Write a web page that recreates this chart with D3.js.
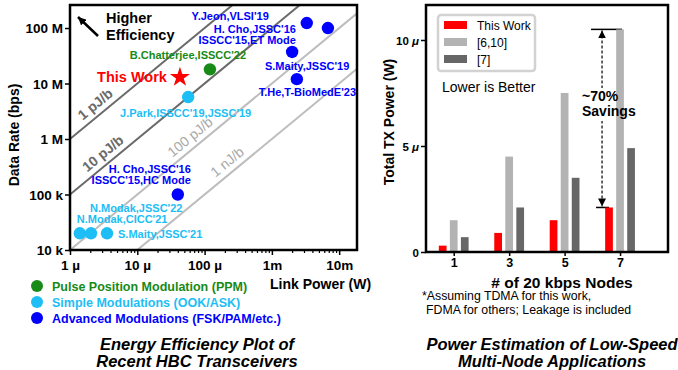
<!DOCTYPE html>
<html>
<head>
<meta charset="utf-8">
<script src="https://cdn.jsdelivr.net/npm/d3@7"></script>
<style>
  body { margin: 0; background: #fff; }
  svg { display: block; font-family: 'Liberation Sans', Arial, Helvetica, sans-serif; }
</style>
</head>
<body>
<div id="chart"></div>
<script>
// ---- left chart data: link power (W) vs data rate (bps)
const refNames = [
  ["B.Chatterjee,ISSCC'22"],
  ["J.Park,ISSCC'19,JSSC'19"],
  ["Y.Jeon,VLSI'19"],
  ["H. Cho,JSSC'16", "ISSCC'15,ET Mode"],
  ["S.Maity,JSSC'19"],
  ["T.He,T-BioMedE'23"],
  ["H. Cho,JSSC'16", "ISSCC'15,HC Mode"],
  ["N.Modak,CICC'21"],
  ["N.Modak,JSSC'22"],
  ["S.Maity,JSSC'21"]
];
const refPower = [120e-6, 57e-6, 3.3e-3, 6.8e-3, 2.0e-3, 2.35e-3, 40e-6, 1.4e-6, 2.05e-6, 3.55e-6];
const refRate = [18e6, 5.7e6, 123e6, 100e6, 37e6, 12e6, 100e3, 20e3, 20e3, 20e3];
const refMod = ['PPM', 'Simple', 'Advanced', 'Advanced', 'Advanced', 'Advanced', 'Advanced', 'Simple', 'Simple', 'Simple'];
const thisWorkPower = 43e-6;
const thisWorkRate = 13e6;

const modKeys = ['PPM', 'Simple', 'Advanced'];
const modNames = ['Pulse Position Modulation (PPM)', 'Simple Modulations (OOK/ASK)', 'Advanced Modulations (FSK/PAM/etc.)'];

const energyPerBit = [1e-12, 1e-11, 1e-10, 1e-9];
const energyNames = ['1 pJ/b', '10 pJ/b', '100 pJ/b', '1 nJ/b'];

const xTickValues = [1e-6, 1e-5, 1e-4, 1e-3, 1e-2];
const xTickLabels = ['1 µ', '10 µ', '100 µ', '1m', '10m'];
const yTickValues = [1e4, 1e5, 1e6, 1e7, 1e8];
const yTickLabels = ['10 k', '100 k', '1 M', '10 M', '100 M'];

// ---- right chart data: total TX power (µW) vs number of nodes
const nodes = [1, 3, 5, 7];
const seriesNames = ['This Work', '[6,10]', '[7]'];
const thisWorkTx = [0.3, 0.9, 1.5, 2.1];
const ref610Tx = [1.5, 4.5, 7.5, 10.5];
const ref7Tx = [0.7, 2.1, 3.5, 4.9];
const powerTicks = [0, 5, 10];

// ---- styles / layout
const modColor = { PPM: '#178a17', Simple: '#1cbef5', Advanced: '#0000ff' };
const energyLine = ['#6a6a6a', '#6a6a6a', '#bdbdbd', '#bdbdbd'];
const energyText = ['#6a6a6a', '#6a6a6a', '#a8a8a8', '#a8a8a8'];
const energyLabelAt = [3e-6, 3.9e-6, 77e-6, 274e-6];
const labelOffset = [
  [-22, -10.5, 'middle'], [-2.5, 20, 'middle'], [-38, -3, 'end'], [-32, 5, 'end'],
  [15, 18, 'middle'], [10.5, 17, 'middle'], [13, -22, 'end'], [-3, -10, 'start'],
  [-1, -21, 'start'], [11, 5, 'start']
];
const seriesColor = ['#ff0000', '#b3b3b3', '#676767'];

const svg = d3.select('#chart').append('svg').attr('width', 678).attr('height', 370);

const defs = svg.append('defs');
defs.append('clipPath').attr('id', 'clipL').append('rect')
  .attr('x', 70).attr('y', 5).attr('width', 287).attr('height', 245);
defs.append('marker')
  .attr('id', 'arrowHead')
  .attr('viewBox', '0 0 10 10')
  .attr('refX', 10).attr('refY', 5)
  .attr('markerWidth', 8).attr('markerHeight', 8)
  .attr('markerUnits', 'userSpaceOnUse')
  .attr('orient', 'auto-start-reverse')
  .append('path').attr('d', 'M0,0 L10,5 L0,10 Z').attr('fill', '#000');

// ================= LEFT CHART =================
const xL = d3.scaleLog().domain([1e-6, 1.84e-2]).range([70, 357]);
const yL = d3.scaleLog().domain([1e4, 2.6e8]).range([250, 5]);

const gL = svg.append('g');

// iso-energy lines
const lineGen = d3.line().x(d => xL(d[0])).y(d => yL(d[1]));
const clipped = gL.append('g').attr('clip-path', 'url(#clipL)');
energyPerBit.forEach((e, i) => {
  clipped.append('path')
    .attr('d', lineGen([[1e-8, 1e-8 / e], [1, 1 / e]]))
    .attr('stroke', energyLine[i])
    .attr('stroke-width', 2)
    .attr('fill', 'none');
});

const angle = Math.atan2(yL(1e7) - yL(1e6), xL(1e-5) - xL(1e-6)) * 180 / Math.PI;
energyPerBit.forEach((e, i) => {
  const p = energyLabelAt[i];
  gL.append('text')
    .attr('transform', `translate(${xL(p)},${yL(p / e)}) rotate(${angle})`)
    .attr('y', -6)
    .attr('text-anchor', 'middle')
    .attr('font-size', 14)
    .attr('font-weight', i < 2 ? 'bold' : 'normal')
    .attr('fill', energyText[i])
    .text(energyNames[i]);
});

// axes
const xAxisL = d3.axisBottom(xL).tickValues(xTickValues).tickSize(5)
  .tickFormat((d, i) => xTickLabels[i]);
const xMinor = [];
for (let dec = 1e-6; dec < 1e-2; dec *= 10) {
  for (let m = 2; m <= 9; m++) xMinor.push(dec * m);
}
gL.append('g')
  .attr('transform', 'translate(0,250)')
  .call(d3.axisBottom(xL).tickValues(xMinor).tickSize(3).tickFormat(''))
  .call(g => g.select('.domain').remove())
  .call(g => g.selectAll('line').attr('stroke-width', 1.2));
gL.append('g')
  .attr('transform', 'translate(0,250)')
  .call(xAxisL)
  .call(g => g.select('.domain').remove())
  .call(g => g.selectAll('line').attr('stroke-width', 1.5))
  .call(g => g.selectAll('text')
    .attr('font-size', 13.5).attr('font-weight', 'bold').attr('fill', '#000')
    .attr('font-family', null).attr('dy', null).attr('y', 20));

gL.append('g')
  .attr('transform', 'translate(70,0)')
  .call(d3.axisLeft(yL).tickValues(yTickValues).tickSize(5).tickFormat((d, i) => yTickLabels[i]))
  .call(g => g.select('.domain').remove())
  .call(g => g.selectAll('line').attr('stroke-width', 1.5))
  .call(g => g.selectAll('text')
    .attr('font-size', 13.5).attr('font-weight', 'bold').attr('fill', '#000')
    .attr('font-family', null).attr('x', -7).attr('dy', '0.36em'));

gL.append('rect')
  .attr('x', 70).attr('y', 5).attr('width', 287).attr('height', 245)
  .attr('fill', 'none').attr('stroke', '#000').attr('stroke-width', 2.5);

// points
gL.selectAll('circle.ref')
  .data(refPower)
  .enter()
  .append('circle')
  .attr('class', 'ref')
  .attr('cx', d => xL(d))
  .attr('cy', (d, i) => yL(refRate[i]))
  .attr('r', 6.2)
  .attr('fill', (d, i) => modColor[refMod[i]]);

refNames.forEach((lines, i) => {
  const [dx, dy, anchor] = labelOffset[i];
  const t = gL.append('text')
    .attr('x', xL(refPower[i]) + dx)
    .attr('y', yL(refRate[i]) + dy)
    .attr('text-anchor', anchor)
    .attr('font-size', 11)
    .attr('font-weight', 'bold')
    .attr('fill', modColor[refMod[i]]);
  lines.forEach((s, j) => {
    t.append('tspan').attr('x', xL(refPower[i]) + dx).attr('dy', j ? 11 : 0).text(s);
  });
});

gL.append('path')
  .attr('d', d3.symbol(d3.symbolStar, 125)())
  .attr('transform', `translate(${xL(thisWorkPower)},${yL(thisWorkRate)})`)
  .attr('fill', '#ff0000');
gL.append('text')
  .attr('x', xL(thisWorkPower) - 13)
  .attr('y', yL(thisWorkRate) + 5)
  .attr('text-anchor', 'end')
  .attr('font-size', 14.5)
  .attr('font-weight', 'bold')
  .attr('fill', '#ff0000')
  .text('This Work');

// "Higher Efficiency" arrow
gL.append('line')
  .attr('x1', 98).attr('y1', 36).attr('x2', 78).attr('y2', 17)
  .attr('stroke', '#000').attr('stroke-width', 2.5)
  .attr('marker-end', 'url(#arrowHead)');
gL.append('text')
  .attr('x', 106).attr('y', 23)
  .attr('font-size', 14.5).attr('font-weight', 'bold')
  .selectAll('tspan').data(['Higher', 'Efficiency']).enter()
  .append('tspan').attr('x', 106).attr('dy', (d, i) => i ? 16.5 : 0).text(d => d);

gL.append('text')
  .attr('x', 270).attr('y', 289)
  .attr('font-size', 14).attr('font-weight', 'bold')
  .text('Link Power (W)');
gL.append('text')
  .attr('transform', 'translate(19,135) rotate(-90)')
  .attr('text-anchor', 'middle')
  .attr('font-size', 14).attr('font-weight', 'bold')
  .text('Data Rate (bps)');

// legend
modKeys.forEach((k, i) => {
  gL.append('circle').attr('cx', 37).attr('cy', 286 + i * 16).attr('r', 6).attr('fill', modColor[k]);
  gL.append('text').attr('x', 52).attr('y', 290.5 + i * 16)
    .attr('font-size', 12.5).attr('font-weight', 'bold').attr('fill', modColor[k])
    .text(modNames[i]);
});

gL.append('text')
  .attr('text-anchor', 'middle')
  .attr('font-size', 16.5).attr('font-weight', 'bold').attr('font-style', 'italic')
  .selectAll('tspan').data(['Energy Efficiency Plot of', 'Recent HBC Transceivers']).enter()
  .append('tspan').attr('x', 197).attr('y', (d, i) => 350 + i * 17).text(d => d);

// ================= RIGHT CHART =================
const xR = d3.scaleLinear().domain([0, 8.73]).range([426, 668]);
const yR = d3.scaleLinear().domain([0, 11.65]).range([252, 5]);
const xSeries = d3.scaleBand().domain(seriesNames).range([-18.2, 18.2]).padding(0.3);

const gR = svg.append('g');
const seriesData = [thisWorkTx, ref610Tx, ref7Tx];

// savings annotation (drawn under the bars)
const xa = xR(nodes[3]) - 18;
const yTop = yR(ref610Tx[3]);
const yBot = yR(thisWorkTx[3]);
gR.append('line').attr('x1', xR(nodes[3]) - 29).attr('x2', xR(nodes[3]) + 2)
  .attr('y1', yTop).attr('y2', yTop).attr('stroke', '#000').attr('stroke-width', 1.5);
gR.append('line').attr('x1', xa - 6).attr('x2', xa + 7)
  .attr('y1', yBot).attr('y2', yBot).attr('stroke', '#000').attr('stroke-width', 1.5);
gR.append('line')
  .attr('x1', xa).attr('x2', xa).attr('y1', yTop + 1).attr('y2', yBot - 1)
  .attr('stroke', '#000').attr('stroke-width', 1.2)
  .attr('stroke-dasharray', '3,2')
  .attr('marker-start', 'url(#arrowHead)')
  .attr('marker-end', 'url(#arrowHead)');
gR.append('rect').attr('x', xa - 5).attr('y', 88).attr('width', 10).attr('height', 33).attr('fill', '#fff');

seriesData.forEach((vals, s) => {
  gR.selectAll(`rect.s${s}`)
    .data(vals)
    .enter()
    .append('rect')
    .attr('class', `s${s}`)
    .attr('x', (d, i) => xR(nodes[i]) + xSeries(seriesNames[s]))
    .attr('y', d => yR(d))
    .attr('width', xSeries.bandwidth())
    .attr('height', d => yR(0) - yR(d))
    .attr('fill', seriesColor[s]);
});

gR.append('text')
  .attr('font-size', 14).attr('font-weight', 'bold')
  .selectAll('tspan').data(['~70%', 'Savings']).enter()
  .append('tspan').attr('x', 582).attr('y', (d, i) => 101 + i * 15).text(d => d);

gR.append('g')
  .attr('transform', 'translate(0,252)')
  .call(d3.axisBottom(xR).tickValues(nodes).tickSize(4).tickFormat(d3.format('d')))
  .call(g => g.select('.domain').remove())
  .call(g => g.selectAll('line').attr('stroke-width', 1.5))
  .call(g => g.selectAll('text')
    .attr('font-size', 12.5).attr('font-weight', 'bold').attr('fill', '#000')
    .attr('font-family', null).attr('dy', null).attr('y', 15));

gR.append('g')
  .attr('transform', 'translate(426,0)')
  .call(d3.axisLeft(yR).tickValues(powerTicks).tickSize(5).tickFormat(''))
  .call(g => g.select('.domain').remove())
  .call(g => g.selectAll('line').attr('stroke-width', 1.5))
  .call(g => g.selectAll('.tick text').each(function (d) {
    const t = d3.select(this)
      .attr('font-size', 11.5).attr('font-weight', 'bold').attr('fill', '#000')
      .attr('font-family', null).attr('x', -7).attr('dy', '0.36em');
    if (d === 0) {
      t.text('0');
    } else {
      t.append('tspan').text(d + ' ');
      t.append('tspan').attr('font-style', 'italic').text('μ');
    }
  }));

gR.append('rect')
  .attr('x', 426).attr('y', 5).attr('width', 242).attr('height', 247)
  .attr('fill', 'none').attr('stroke', '#000').attr('stroke-width', 2.5);

// legend
gR.append('rect')
  .attr('x', 438).attr('y', 15).attr('width', 97).attr('height', 56).attr('rx', 3)
  .attr('fill', '#fff').attr('stroke', '#d2d2d2').attr('stroke-width', 2.5);
seriesNames.forEach((n, i) => {
  gR.append('rect').attr('x', 444).attr('y', 21 + i * 17).attr('width', 23).attr('height', 8)
    .attr('fill', seriesColor[i]);
  gR.append('text').attr('x', 477).attr('y', 29.5 + i * 17)
    .attr('font-size', 12).text(n);
});

gR.append('text')
  .attr('x', 442).attr('y', 92)
  .attr('font-size', 14)
  .text('Lower is Better');

gR.append('text')
  .attr('x', 562).attr('y', 288)
  .attr('text-anchor', 'middle')
  .attr('font-size', 15.5).attr('font-weight', 'bold')
  .text('# of 20 kbps Nodes');
gR.append('text')
  .attr('transform', 'translate(394,122) rotate(-90)')
  .attr('text-anchor', 'middle')
  .attr('font-size', 14).attr('font-weight', 'bold')
  .text('Total TX Power (W)');

gR.append('text').attr('x', 422).attr('y', 300).attr('font-size', 12.3)
  .text('*Assuming TDMA for this work,');
gR.append('text').attr('x', 426).attr('y', 314).attr('font-size', 12.3)
  .text('FDMA for others; Leakage is included');

gR.append('text')
  .attr('text-anchor', 'middle')
  .attr('font-size', 16.5).attr('font-weight', 'bold').attr('font-style', 'italic')
  .selectAll('tspan').data(['Power Estimation of Low-Speed', 'Multi-Node Applications']).enter()
  .append('tspan').attr('x', 552).attr('y', (d, i) => 350 + i * 17).text(d => d);
</script>
</body>
</html>
